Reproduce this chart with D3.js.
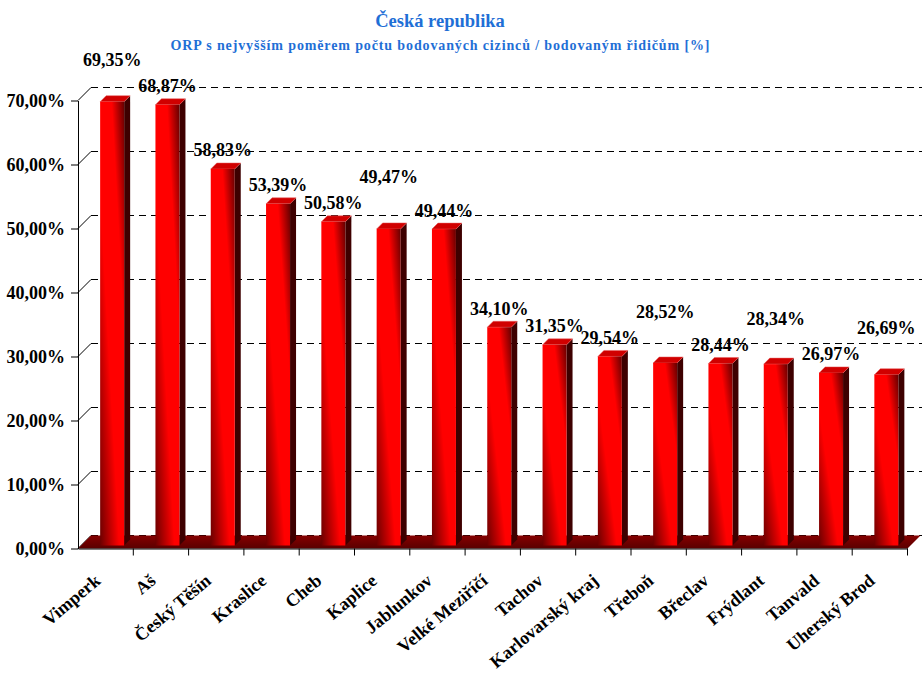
<!DOCTYPE html>
<html>
<head>
<meta charset="utf-8">
<script src="https://cdn.jsdelivr.net/npm/d3@7"></script>
<style>
  body { margin: 0; background: #fff; }
  text { font-family: "Liberation Serif", "Times New Roman", serif; font-weight: bold; }
</style>
</head>
<body>
<script>
// data
const places = ["Vimperk", "Aš", "Český Těšín", "Kraslice", "Cheb", "Kaplice", "Jablunkov",
  "Velké Meziříčí", "Tachov", "Karlovarský kraj", "Třeboň", "Břeclav", "Frýdlant", "Tanvald", "Uherský Brod"];
const shares = [69.35, 68.87, 58.83, 53.39, 50.58, 49.47, 49.44, 34.10, 31.35, 29.54, 28.52, 28.44, 28.34, 26.97, 26.69];
const yTicks = [0, 10, 20, 30, 40, 50, 60, 70];
const title = "Česká republika";
const subtitle = "ORP s nejvyšším poměrem počtu bodovaných cizinců / bodovaným řidičům [%]";

const w = 922, h = 677;
const depth = 13;      // offset of the back wall
const barW = 24, barD = 6;
const blue = "#1f6fd6";

const fmt = v => d3.format(".2f")(v).replace(".", ",") + "%";

const x = d3.scaleBand().domain(places).range([78, 907.5]);
const y = d3.scaleLinear().domain([0, 70]).range([548.5, 100.5]);

const svg = d3.select("body").append("svg")
  .attr("width", w)
  .attr("height", h);

const defs = svg.append("defs");
// front face: bright along the diagonal, dark in the corners
const gFront = defs.append("linearGradient").attr("id", "front")
  .attr("x1", 1).attr("y1", 0).attr("x2", 0).attr("y2", 1);
gFront.append("stop").attr("offset", 0).attr("stop-color", "#640000");
gFront.append("stop").attr("offset", 0.26).attr("stop-color", "#ff0000");
gFront.append("stop").attr("offset", 0.6).attr("stop-color", "#ff0000");
gFront.append("stop").attr("offset", 1).attr("stop-color", "#6a0000");

const gFloor = defs.append("linearGradient").attr("id", "floor")
  .attr("x1", 0).attr("y1", 0).attr("x2", 0).attr("y2", 1);
gFloor.append("stop").attr("offset", 0).attr("stop-color", "#860000");
gFloor.append("stop").attr("offset", 1).attr("stop-color", "#5a0000");

// titles
svg.append("text")
  .attr("x", 440).attr("y", 27)
  .attr("text-anchor", "middle")
  .attr("font-size", 18.5)
  .attr("fill", blue)
  .text(title);

svg.append("text")
  .attr("x", 440).attr("y", 50)
  .attr("text-anchor", "middle")
  .attr("font-size", 14)
  .attr("textLength", 539)
  .attr("lengthAdjust", "spacing")
  .attr("fill", blue)
  .text(subtitle);

// grid on the back wall + slanted side wall lines
const grid = svg.append("g");
grid.selectAll(".side")
  .data(yTicks)
  .enter()
  .append("line")
  .attr("x1", 78).attr("y1", d => y(d))
  .attr("x2", 78 + depth).attr("y2", d => y(d) - depth)
  .attr("stroke", "#000");
grid.selectAll(".dash")
  .data(yTicks)
  .enter()
  .append("line")
  .attr("x1", 78 + depth).attr("y1", d => y(d) - depth)
  .attr("x2", w).attr("y2", d => y(d) - depth)
  .attr("stroke", "#000")
  .attr("shape-rendering", "crispEdges")
  .attr("stroke-dasharray", "7,5");

// floor
const x0 = x.range()[0], x1 = x.range()[1];
svg.append("path")
  .attr("d", d3.line()([[x0, y(0)], [x0 + depth, y(0) - depth], [x1 + depth, y(0) - depth], [x1, y(0)]]) + "Z")
  .attr("fill", "url(#floor)");

// bars
const barX = d => x(d) + x.bandwidth() / 2 + depth / 2 - barW / 2;
const base = y(0) - 3;
const bars = svg.selectAll(".bar")
  .data(places.map((p, i) => ({ p, v: shares[i] })))
  .enter()
  .append("g")
  .attr("class", "bar");

bars.append("path")
  .attr("d", d => {
    const bx = barX(d.p) + barW, t = y(d.v) - 3;
    return d3.line()([[bx, t], [bx + barD, t - barD], [bx + barD, base - barD], [bx, base]]) + "Z";
  })
  .attr("fill", "#3e0000");

bars.append("path")
  .attr("d", d => {
    const bx = barX(d.p), t = y(d.v) - 3;
    return d3.line()([[bx, t], [bx + barD, t - barD], [bx + barW + barD, t - barD], [bx + barW, t]]) + "Z";
  })
  .attr("fill", "#d00000")
  .attr("stroke", "#e86060")
  .attr("stroke-width", 0.5);

bars.append("rect")
  .attr("x", d => barX(d.p))
  .attr("y", d => y(d.v) - 3)
  .attr("width", barW)
  .attr("height", d => base - (y(d.v) - 3))
  .attr("fill", "url(#front)");

// y axis
const yAxis = d3.axisLeft(y)
  .tickValues(yTicks)
  .tickSize(7)
  .tickSizeOuter(0)
  .tickPadding(6)
  .tickFormat(fmt);

svg.append("g")
  .attr("transform", "translate(" + x0 + ",0)")
  .call(yAxis)
  .call(g => g.selectAll("text")
    .attr("font-size", 18)
    .attr("font-family", "Liberation Serif, serif")
    .attr("fill", "#000"));

// x axis, ticks between the categories
const xAxis = d3.axisBottom(x).tickSize(0).tickSizeOuter(0).tickPadding(0);
svg.append("g")
  .attr("transform", "translate(0," + y(0) + ")")
  .call(xAxis)
  .call(g => g.selectAll("text")
    .attr("y", 0).attr("dy", 0)
    .attr("text-anchor", "end")
    .attr("transform", "translate(-4,34) rotate(-40)")
    .attr("font-size", 18)
    .attr("font-family", "Liberation Serif, serif")
    .attr("fill", "#000"));

svg.append("g").selectAll("line")
  .data(places)
  .enter()
  .append("line")
  .attr("x1", d => x(d) + x.bandwidth()).attr("x2", d => x(d) + x.bandwidth())
  .attr("y1", y(0)).attr("y2", y(0) + 7)
  .attr("stroke", "#000");

// value labels: above the bar, lifted when a neighbour is in the way
const minGap = 11.4, lift = 26;
const labelY = shares.map(v => y(v) - 3 - 12.5);
for (let i = 1; i < labelY.length; i++) {
  if (Math.abs(labelY[i] - labelY[i - 1]) < minGap) {
    const raised = labelY[i] - lift;
    if (i > 1 && Math.abs(raised - labelY[i - 2]) < minGap) labelY[i] = labelY[i - 1] - lift;
    else labelY[i - 1] = raised;
  }
}

svg.append("g").selectAll("text")
  .data(shares)
  .enter()
  .append("text")
  .attr("x", (d, i) => barX(places[i]) + barW / 2)
  .attr("y", (d, i) => labelY[i])
  .attr("text-anchor", "middle")
  .attr("font-size", 18)
  .text(d => fmt(d));
</script>
</body>
</html>
